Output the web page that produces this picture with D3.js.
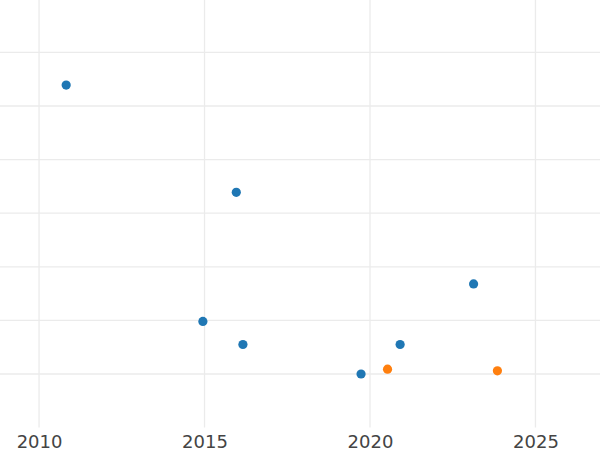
<!DOCTYPE html>
<html>
<head>
<meta charset="utf-8">
<script src="https://cdn.jsdelivr.net/npm/d3@7"></script>
<style>
html,body{margin:0;padding:0;background:#fff;}
svg{display:block;}
</style>
</head>
<body>
<svg id="chart" width="600" height="450"></svg>
<script>
const seriesA_x = [2010.82, 2015.96, 2014.95, 2016.16, 2019.73, 2020.91, 2023.13];
const seriesA_y = [5.39, 3.39, 0.98, 0.55, 0.0, 0.55, 1.68];
const seriesB_x = [2020.53, 2023.85];
const seriesB_y = [0.09, 0.06];
const xTicks = [2010, 2015, 2020, 2025];
const yGrid = [0, 1, 2, 3, 4, 5, 6];
const colors = ["#1f77b4", "#ff7f0e"];

const W = 600, H = 450;
const plot = {left: 0, right: 600, top: 0, bottom: 427.5};
const svg = d3.select("#chart");

const x = d3.scaleLinear().domain([2008.82, 2026.95]).range([plot.left, plot.right]);
const y = d3.scaleLinear().domain([-1, 7]).range([427.6, -1.2]);

// vertical grid
svg.append("g").selectAll("line").data(xTicks).join("line")
  .attr("x1", d => x(d)).attr("x2", d => x(d))
  .attr("y1", plot.top).attr("y2", plot.bottom)
  .attr("stroke", "#ebebeb").attr("stroke-width", 1.3);

// horizontal grid
svg.append("g").selectAll("line").data(yGrid).join("line")
  .attr("x1", plot.left).attr("x2", plot.right)
  .attr("y1", d => y(d)).attr("y2", d => y(d))
  .attr("stroke", "#ebebeb").attr("stroke-width", 1.3);

// x axis labels
const xAxis = d3.axisBottom(x).tickValues(xTicks).tickFormat(d3.format("d")).tickSize(0).tickPadding(0);
const gx = svg.append("g").attr("transform", `translate(0,${plot.bottom})`).call(xAxis);
gx.select(".domain").remove();
gx.selectAll("text")
  .attr("dy", null).attr("y", 20)
  .attr("fill", "#444")
  .style("font-family", "DejaVu Sans, sans-serif")
  .style("font-size", "18px");

const dataA = seriesA_x.map((v, i) => ({x: v, y: seriesA_y[i]}));
const dataB = seriesB_x.map((v, i) => ({x: v, y: seriesB_y[i]}));

[dataA, dataB].forEach((data, k) => {
  svg.append("g").selectAll("circle").data(data).join("circle")
    .attr("cx", d => x(d.x)).attr("cy", d => y(d.y))
    .attr("r", 4.6).attr("fill", colors[k]);
});
</script>
</body>
</html>
